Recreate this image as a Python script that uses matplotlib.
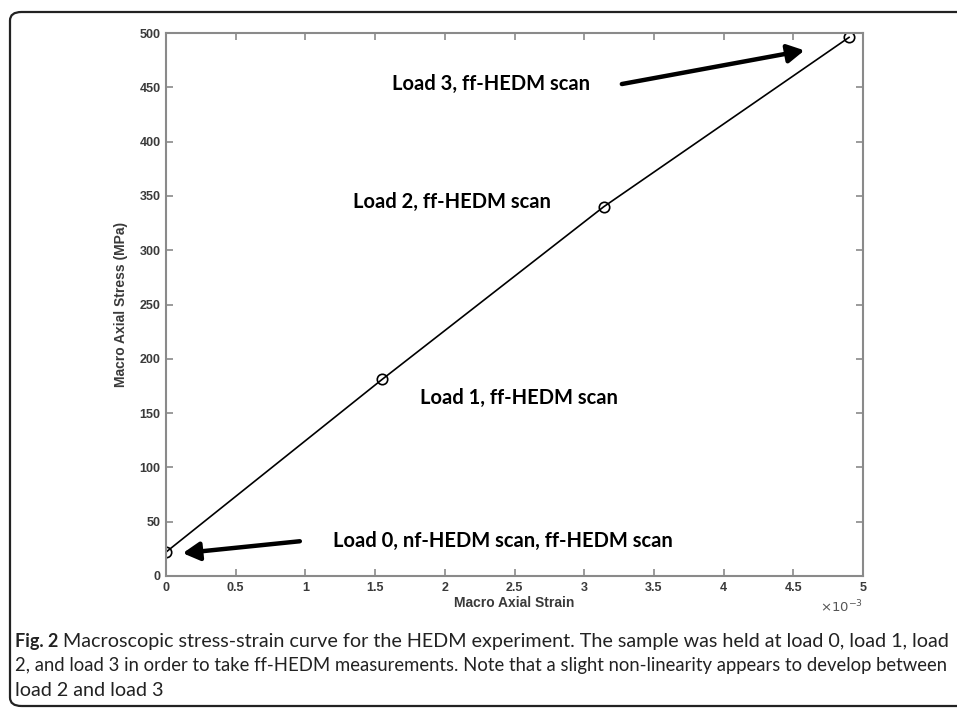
import matplotlib.pyplot as plt
from matplotlib.patches import FancyBboxPatch

# strain in units of 1e-3, stress in MPa
strain = [0.0, 1.55, 3.14, 4.90]
stress = [22, 181, 340, 496]

xticks = [0, 0.5, 1, 1.5, 2, 2.5, 3, 3.5, 4, 4.5, 5]
xticklabels = ['0', '0.5', '1', '1.5', '2', '2.5', '3', '3.5', '4', '4.5', '5']
yticks = [0, 50, 100, 150, 200, 250, 300, 350, 400, 450, 500]

notes = ['Load 0, nf-HEDM scan, ff-HEDM scan', 'Load 1, ff-HEDM scan',
         'Load 2, ff-HEDM scan', 'Load 3, ff-HEDM scan']
note_xy = [(1.20, 32), (1.82, 164), (1.34, 344), (1.62, 453)]
# arrows: (tail, tip)
arrows = [((0.96, 32), (0.12, 21)), ((3.27, 453), (4.58, 484))]

caption_head = 'Fig. 2'
caption1 = 'Macroscopic stress-strain curve for the HEDM experiment. The sample was held at load 0, load 1, load'
caption2 = '2, and load 3 in order to take ff-HEDM measurements. Note that a slight non-linearity appears to develop between'
caption3 = 'load 2 and load 3'

fig = plt.figure(figsize=(9.57, 7.10), dpi=100)

# rounded frame around figure + caption
frame = FancyBboxPatch((10/957, 4/710), 1.2, (702-8)/710,
                       boxstyle='round,pad=0,rounding_size=0.012',
                       transform=fig.transFigure, fill=False,
                       ec='#222222', lw=1.6, clip_on=False)
fig.patches.append(frame)

ax = fig.add_axes([166/957, 134/710, 697/957, 543/710])
gray = '#8a8a8a'
tickc = '#3a3a3a'

ax.plot(strain, stress, c='black', lw=1.2, marker='o', ms=7.5,
        mfc='none', mec='black', mew=1.2)

ax.set_xlim(0, 5)
ax.set_ylim(0, 500)
ax.set_xticks(xticks)
ax.set_xticklabels(xticklabels)
ax.set_yticks(yticks)
for s in ax.spines.values():
    s.set_color(gray)
    s.set_linewidth(1.5)
ax.tick_params(direction='in', top=True, right=True, length=5, width=1.2,
               color=gray, labelcolor=tickc, labelsize=9, pad=4)
for lab in ax.get_xticklabels() + ax.get_yticklabels():
    lab.set_fontfamily('Liberation Sans')
    lab.set_fontweight('bold')

ax.set_xlabel('Macro Axial Strain', fontsize=10, fontweight='bold',
              family='Liberation Sans', color=tickc, labelpad=2)
ax.set_ylabel('Macro Axial Stress (MPa)', fontsize=10, fontweight='bold',
              family='Liberation Sans', color=tickc, labelpad=8)
ax.text(1.0, -0.042, r'$\times10^{-3}$', transform=ax.transAxes, ha='right',
        va='top', fontsize=9.5, color='#555555')

for t, (x, y) in zip(notes, note_xy):
    ax.text(x, y, t, fontsize=14.5, fontweight='bold', family='Lato',
            va='center', ha='left', color='black')

for (tail, tip) in arrows:
    ax.annotate('', xy=tip, xytext=tail,
                arrowprops=dict(arrowstyle='-|>,head_length=1.0,head_width=0.55',
                                lw=3.2, color='black', shrinkA=0, shrinkB=0))

# caption, fitted to the widths seen in the picture
capc = '#222222'
fs = 13
r = fig.canvas.get_renderer()
head = fig.text(15/957, 1 - 641/710, caption_head, fontsize=fs, fontweight='bold',
                family='Lato', va='center', color=capc)
hw = head.get_window_extent(r).width
l1 = fig.text((15 + hw + 5)/957, 1 - 641/710, caption1, fontsize=fs,
              family='Lato', va='center', color=capc)
w1 = l1.get_window_extent(r).width
k = (948 - 15 - hw - 5) / w1
l1.set_fontsize(fs * k)
l2 = fig.text(15/957, 1 - 666/710, caption2, fontsize=fs, family='Lato',
              va='center', color=capc)
w2 = l2.get_window_extent(r).width
l2.set_fontsize(fs * (946 - 15) / w2)
fig.text(15/957, 1 - 690/710, caption3, fontsize=fs * k, family='Lato',
         va='center', color=capc)

fig.savefig('out.png', dpi=100)
